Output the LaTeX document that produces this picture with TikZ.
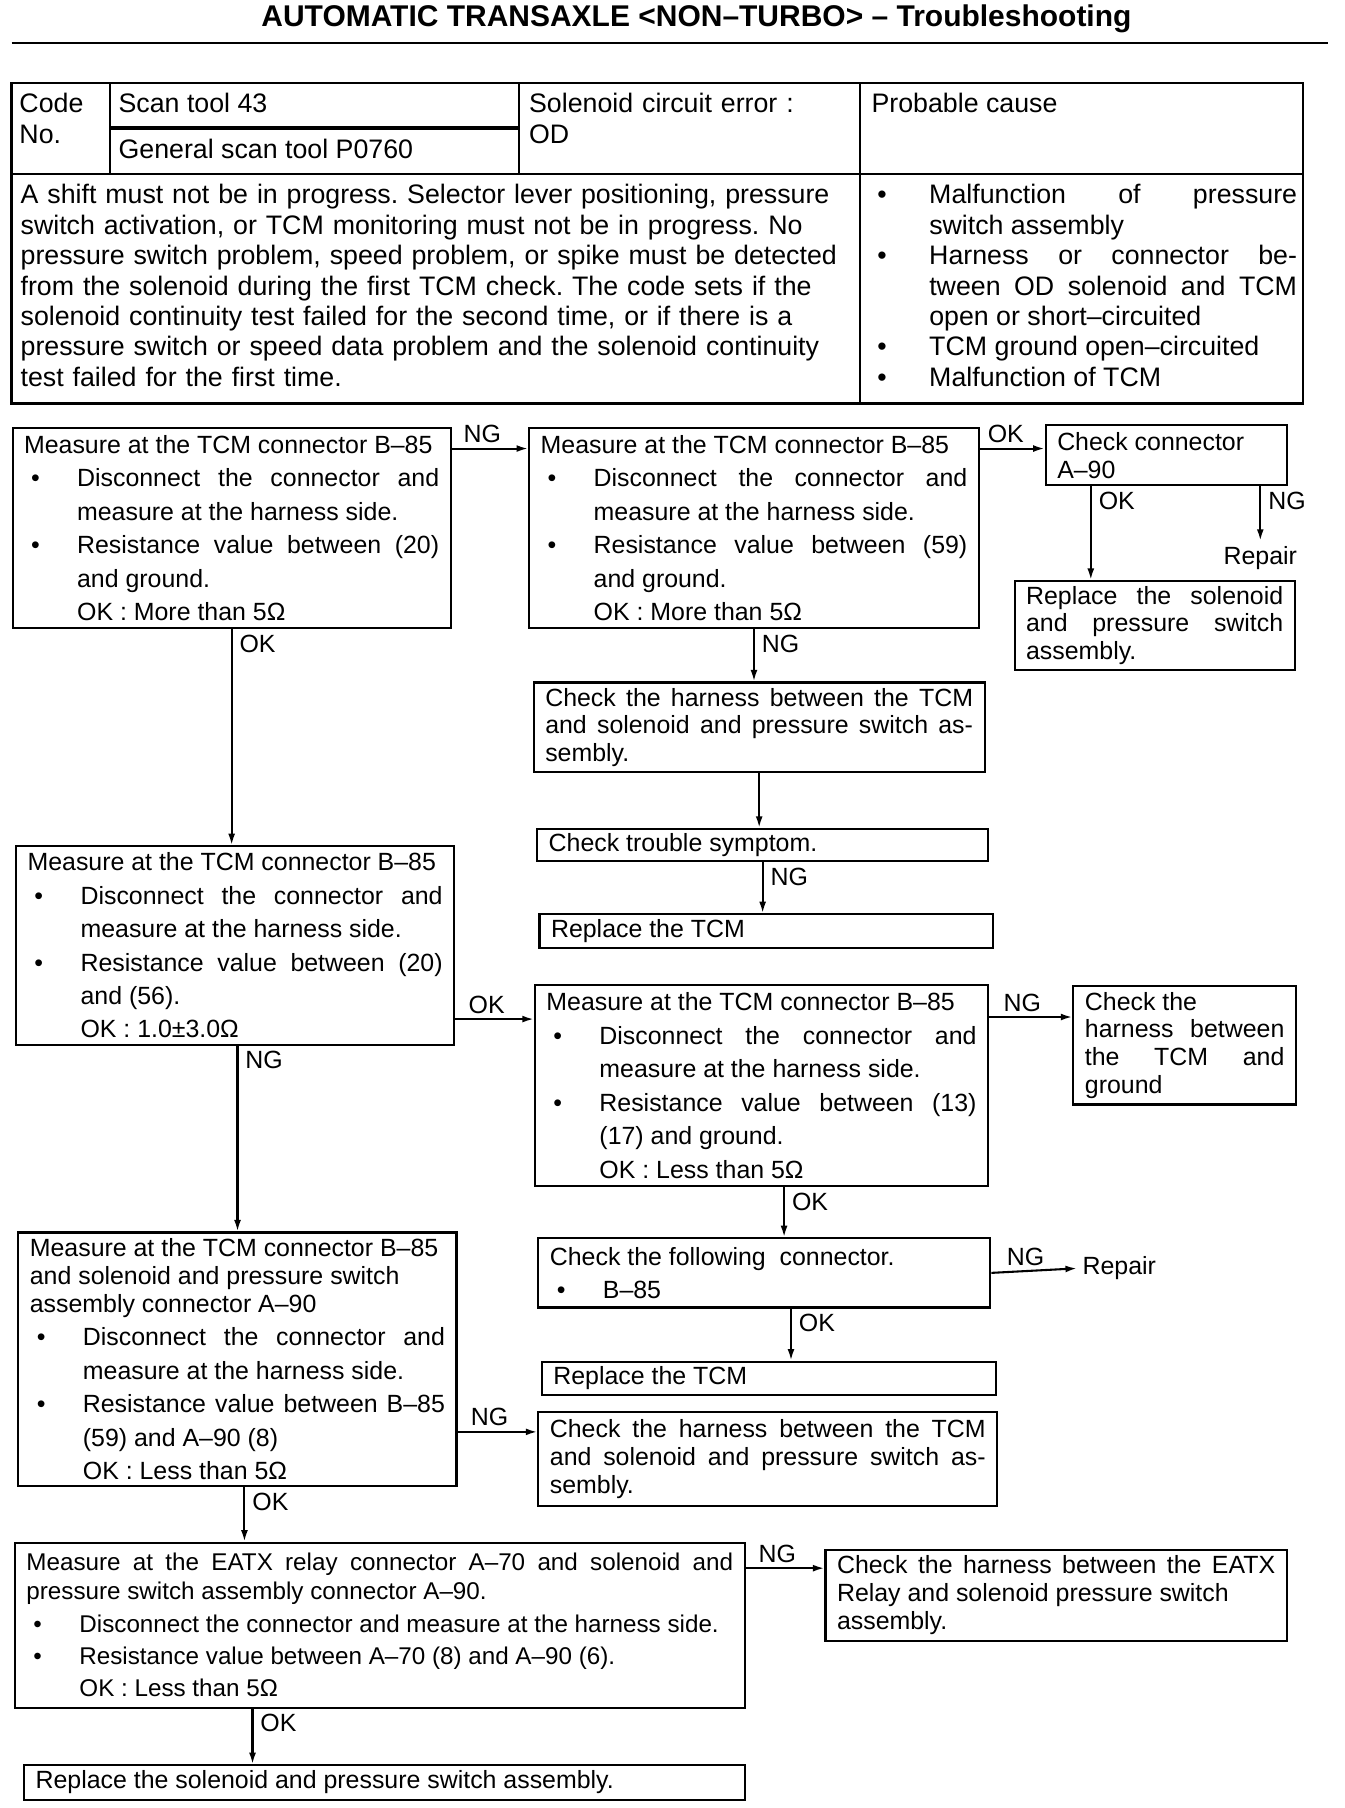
\documentclass[tikz,border=0pt]{standalone}
\usepackage{fontspec}
\setmainfont{Liberation Sans}
\usetikzlibrary{arrows.meta}

\newcommand\bltx[1][23pt]{\hangindent=#1\hangafter=1\noindent\makebox[#1][l]{\hspace{3pt}\textbullet}}
\newcommand\blt[1][23pt]{\par\bltx[#1]}
\newcommand\okline{\par\noindent\hspace*{23pt}}

\begin{document}
\begin{tikzpicture}[x=0.5pt, y=-0.5pt, line width=0.9pt,
  box/.style={draw, anchor=north west, inner xsep=5pt, inner ysep=2pt, align=justify},
  chk/.style={box, font=\fontsize{10.8}{12}\selectfont},
  msr/.style={box, font=\fontsize{10.8}{14.5}\selectfont},
  cell/.style={anchor=north west, inner sep=0pt, font=\fontsize{11.6}{13.2}\selectfont\frenchspacing},
  arr/.style={-{Latex[length=5pt,width=3pt]}},
  lbl/.style={font=\fontsize{10.8}{12}\selectfont, inner sep=2pt}]
\useasboundingbox (0,0) rectangle (1166,1568);

\node[font=\bfseries\fontsize{13}{15}\selectfont] (title) at (604,16) {AUTOMATIC TRANSAXLE <NON–TURBO> – Troubleshooting};
\draw[line width=1pt] (10,37) -- (1152,37);

\draw[line width=1pt] (10,72) rectangle (1130,350);
\draw[line width=1pt] (10,151) -- (1130,151);
\draw (95,72) -- (95,151);
\draw (450,72) -- (450,151);
\draw (746,72) -- (746,350);
\draw[line width=1.6pt] (95,111) -- (450,111);

\node[cell, text width=70pt, align=left] (code) at (16,80) {Code\\No.};
\node[cell] (scan) at (102,80) {Scan tool 43};
\node[cell, anchor=west] (gscan) at (102,129) {General scan tool P0760};
\node[cell, text width=140pt, align=left] (err) at (458,80) {Solenoid circuit error :\\OD};
\node[cell] (cause) at (755,80) {Probable cause};
\node[cell, text width=366pt, align=left] (cond) at (17,159) {A shift must not be in progress. Selector lever positioning, pressure\\
switch activation, or TCM monitoring must not be in progress. No\\
pressure switch problem, speed problem, or spike must be detected\\
from the solenoid during the first TCM check. The code sets if the\\
solenoid continuity test failed for the second time, or if there is a\\
pressure switch or speed data problem and the solenoid continuity\\
test failed for the first time.};
\node[cell, text width=185pt, align=justify] (causes) at (754,159) {\bltx[25.5pt]Malfunction of pressure\linebreak switch assembly
\blt[25.5pt]Harness or connector be-\linebreak tween OD solenoid and TCM\linebreak open or short–circuited
\blt[25.5pt]TCM ground open–circuited
\blt[25.5pt]Malfunction of TCM};

\node[msr, text width=180pt, minimum height=87pt] (m20g) at (10,370) {Measure at the TCM connector B–85
\blt Disconnect the connector and\linebreak measure at the harness side.
\blt Resistance value between (20)\linebreak and ground.
\okline OK : More than 5Ω};
\node[msr, text width=185pt, minimum height=87pt] (m59g) at (458,370) {Measure at the TCM connector B–85
\blt Disconnect the connector and\linebreak measure at the harness side.
\blt Resistance value between (59)\linebreak and ground.
\okline OK : More than 5Ω};
\node[chk, text width=94.5pt, minimum height=26pt] (ca90) at (906,368) {Check connector\newline A–90};
\node[lbl] (rep1) at (1093,484) {Repair};
\node[chk, text width=111.5pt, minimum height=38.5pt] (rsol) at (879,503) {Replace the solenoid\linebreak and pressure switch\linebreak assembly.};
\node[chk, text width=185.5pt, minimum height=39pt] (hns1) at (462,591) {Check the harness between the TCM\linebreak and solenoid and pressure switch as-\linebreak sembly.};
\node[chk, text width=185.5pt, minimum height=14pt] (sym) at (465,718) {Check trouble symptom.};
\node[chk, text width=186.5pt, minimum height=14.5pt] (rtcm1) at (467,792) {Replace the TCM};

\node[msr, text width=180pt, minimum height=86pt] (m2056) at (13,733) {Measure at the TCM connector B–85
\blt Disconnect the connector and\linebreak measure at the harness side.
\blt Resistance value between (20)\linebreak and (56).
\okline OK : 1.0±3.0Ω};
\node[msr, text width=186.5pt, minimum height=87.5pt] (m1317) at (463,853) {Measure at the TCM connector B–85
\blt Disconnect the connector and\linebreak measure at the harness side.
\blt Resistance value between (13)\linebreak (17) and ground.
\okline OK : Less than 5Ω};
\node[chk, text width=86.5pt, minimum height=51.5pt] (hgnd) at (930,854) {Check the\newline harness between\linebreak the TCM and\linebreak ground};
\node[msr, text width=186pt, minimum height=30pt] (cb85) at (466,1073) {Check the following\ \ connector.
\blt B–85};
\node[lbl, anchor=west] (rep2) at (934,1100) {Repair};
\node[chk, text width=187pt, minimum height=14.5pt] (rtcm2) at (469,1180) {Replace the TCM};

\node[msr, text width=180pt, minimum height=110pt] (m5990) at (15,1068) {{\baselineskip=12pt Measure at the TCM connector B–85\newline and solenoid and pressure switch\newline assembly connector A–90\par}
\blt Disconnect the connector and\linebreak measure at the harness side.
\blt Resistance value between B–85\linebreak (59) and A–90 (8)
\okline OK : Less than 5Ω};
\node[chk, text width=189pt, minimum height=40.5pt] (hns2) at (466,1224) {Check the harness between the TCM\linebreak and solenoid and pressure switch as-\linebreak sembly.};

\node[msr, font=\fontsize{10.5}{14}\selectfont, text width=306.5pt, minimum height=71.5pt] (meatx) at (12,1337) {{\baselineskip=12.5pt Measure at the EATX relay connector A–70 and solenoid and\linebreak pressure switch assembly connector A–90.\par}
\blt Disconnect the connector and measure at the harness side.
\blt Resistance value between A–70 (8) and A–90 (6).
\okline OK : Less than 5Ω};
\node[chk, text width=190pt, minimum height=39.5pt] (heatx) at (715,1343) {Check the harness between the EATX\linebreak Relay and solenoid pressure switch\newline assembly.};
\node[chk, text width=302.5pt, minimum height=15pt] (rsol2) at (20,1530) {Replace the solenoid and pressure switch assembly.};

\draw[arr] ([yshift=-9.5pt]m20g.north east) coordinate (p1) -- (p1 -| m59g.west) node[lbl, pos=0.4, above] {NG};
\draw[arr] ([yshift=-9.5pt]m59g.north east) coordinate (p2) -- (p2 -| ca90.west) node[lbl, pos=0.4, above] {OK};
\draw[arr] ([xshift=20pt]ca90.south west) coordinate (p3) -- (p3 |- rsol.north) node[lbl, pos=0, anchor=north west, xshift=1pt] {OK};
\draw[arr] (ca90.south -| rep1.north) -- (rep1.north) node[lbl, pos=0, anchor=north west, xshift=1pt] {NG};
\draw[arr] (m59g.south) -- (m59g.south |- hns1.north) node[lbl, pos=0, anchor=north west, xshift=1pt] {NG};
\draw[arr] (hns1.south) -- (hns1.south |- sym.north);
\draw[arr] (sym.south) -- (sym.south |- rtcm1.north) node[lbl, pos=0, anchor=north west, xshift=1pt] {NG};
\draw[arr] (m20g.south) -- (m20g.south |- m2056.north) node[lbl, pos=0, anchor=north west, xshift=1pt] {OK};
\draw[arr] ([yshift=11.5pt]m2056.south east) coordinate (p4) -- (p4 -| m1317.west) node[lbl, pos=0.4, above] {OK};
\draw[arr] ([yshift=-14.5pt]m1317.north east) coordinate (p5) -- (p5 -| hgnd.west) node[lbl, pos=0.4, above] {NG};
\draw[arr] ([xshift=108.5pt]m1317.south west) coordinate (p6) -- (p6 |- cb85.north) node[lbl, pos=0, anchor=north west, xshift=1pt] {OK};
\draw[arr] (cb85.east) -- (rep2.west) node[lbl, pos=0.4, above] {NG};
\draw[arr] ([xshift=110pt]cb85.south west) coordinate (p7) -- (p7 |- rtcm2.north) node[lbl, pos=0, anchor=north west, xshift=1pt] {OK};
\draw[arr] ([xshift=96.5pt]m2056.south west) coordinate (p8) -- (p8 |- m5990.north) node[lbl, pos=0, anchor=north west, xshift=1pt] {NG};
\draw[arr] ([yshift=24pt]m5990.south east) coordinate (p9) -- (p9 -| hns2.west) node[lbl, pos=0.4, above] {NG};
\draw[arr] ([xshift=98.5pt]m5990.south west) coordinate (p10) -- (p10 |- meatx.north) node[lbl, pos=0, anchor=north west, xshift=1pt] {OK};
\draw[arr] ([yshift=-11.5pt]meatx.north east) coordinate (p11) -- (p11 -| heatx.west) node[lbl, pos=0.4, above] {NG};
\draw[arr] ([xshift=103.5pt]meatx.south west) coordinate (p12) -- (p12 |- rsol2.north) node[lbl, pos=0, anchor=north west, xshift=1pt] {OK};
\end{tikzpicture}
\end{document}
